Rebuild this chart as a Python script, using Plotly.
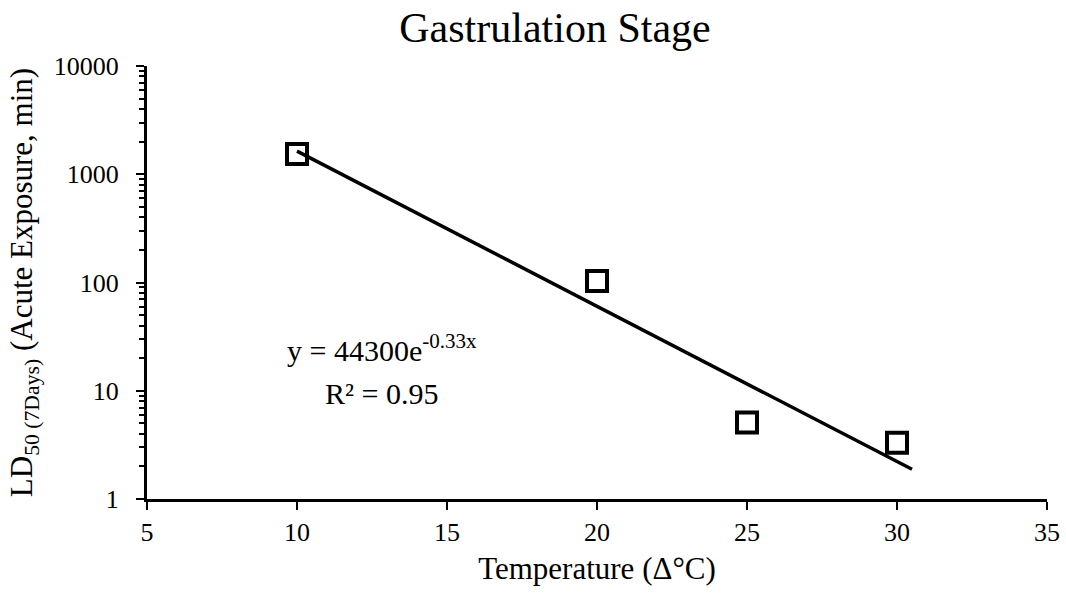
import numpy as np
import plotly.graph_objects as go

# Measured LD50 values at each temperature step
temperature = [10, 20, 25, 30]
ld50_minutes = [1540, 103, 5.1, 3.3]

# Exponential trendline parameters
fit_a = 44300
fit_b = -0.33
fit_x_start = 10
fit_x_end = 30.5

x_ticks = [5, 10, 15, 20, 25, 30, 35]
y_ticks = [1, 10, 100, 1000, 10000]

fit_x = np.linspace(fit_x_start, fit_x_end, 100)
fit_y = fit_a * np.exp(fit_b * fit_x)

serif = "Liberation Serif, Times New Roman, serif"

W, H = 1066, 593
L, R, T, B = 147, 19, 66, 94
pw, ph = W - L - R, H - T - B


def px_x(x):
    return (x - L) / pw


def px_y(y):
    return 1 - (y - T) / ph


fig = go.Figure()
fig.add_trace(go.Scatter(
    x=fit_x, y=fit_y, mode="lines",
    line=dict(color="black", width=3.5),
    showlegend=False, hoverinfo="skip",
))
fig.add_trace(go.Scatter(
    x=temperature, y=ld50_minutes, mode="markers",
    marker=dict(symbol="square-open", size=20, color="black",
                line=dict(color="black", width=4)),
    showlegend=False,
))

fig.add_annotation(
    x=px_x(382), y=px_y(348), xref="paper", yref="paper", showarrow=False,
    xanchor="center", yanchor="middle",
    text="y = 44300e<sup>-0.33x</sup>",
    font=dict(family=serif, size=30, color="black"),
)
fig.add_annotation(
    x=px_x(381), y=px_y(393), xref="paper", yref="paper", showarrow=False,
    xanchor="center", yanchor="middle",
    text="R² = 0.95",
    font=dict(family=serif, size=30, color="black"),
)

fig.update_layout(
    width=W, height=H,
    margin=dict(l=L, r=R, t=T, b=B),
    paper_bgcolor="white", plot_bgcolor="white",
    font=dict(family=serif, color="black"),
    title=dict(text="Gastrulation Stage", x=555 / W, xanchor="center",
               y=1 - 27 / H, yanchor="middle",
               font=dict(family=serif, size=42, color="black")),
    xaxis=dict(
        range=[5, 35], tickvals=x_ticks, ticktext=[str(v) for v in x_ticks],
        automargin=False,
        showline=True, linecolor="black", linewidth=3,
        ticks="outside", ticklen=8, tickwidth=2, tickcolor="black",
        showgrid=False, zeroline=False,
        tickfont=dict(family=serif, size=26, color="black"),
        title=dict(text="Temperature (Δ°C)", standoff=12,
                   font=dict(family=serif, size=31, color="black")),
    ),
    yaxis=dict(
        type="log", range=[0, 4], tickvals=y_ticks,
        ticktext=[str(v) for v in y_ticks],
        automargin=False,
        showline=True, linecolor="black", linewidth=3,
        ticks="outside", ticklen=8, tickwidth=2, tickcolor="black",
        ticklabelstandoff=12,
        minor=dict(ticks="outside", ticklen=5, tickwidth=1.5,
                   tickcolor="black", dtick="D1", showgrid=False),
        showgrid=False, zeroline=False,
        tickfont=dict(family=serif, size=26, color="black"),
        title=dict(text="LD<sub>50 (7Days)</sub> (Acute Exposure, min)",
                   standoff=12,
                   font=dict(family=serif, size=31, color="black")),
    ),
)

fig.write_html("out.html")
